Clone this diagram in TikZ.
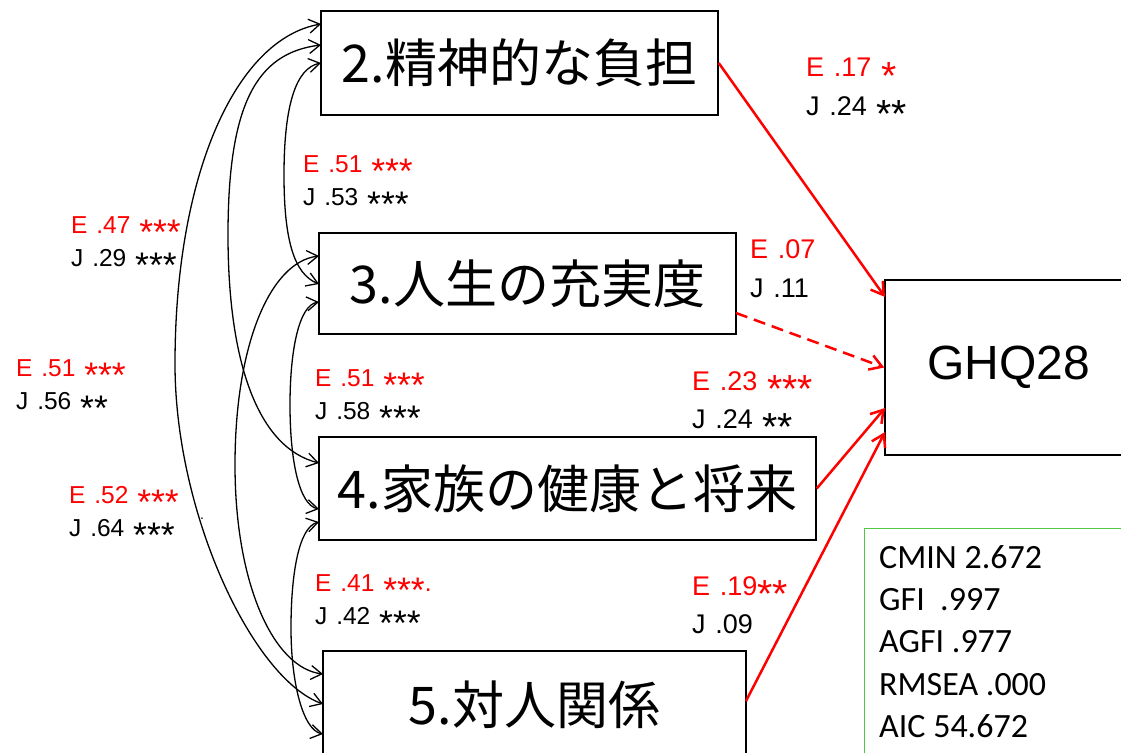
\documentclass[tikz,border=0pt]{standalone}
\usepackage{fontspec}
\usepackage{graphicx}
\setmainfont{Liberation Sans}
\newfontfamily\jpfont{Noto Sans CJK JP}
\newfontfamily\calfont{Carlito}
\newfontfamily\labfont[WordSpace=1.3]{Liberation Sans}
\usetikzlibrary{arrows.meta}
\definecolor{rd}{RGB}{255,0,0}
\definecolor{gr}{RGB}{80,200,70}
\newcommand\ask[1]{\raisebox{-0.46em}{\scalebox{1.45}{#1}}}
\begin{document}
\begin{tikzpicture}[x=1pt,y=-1pt,
  box/.style={draw=black, line width=1.5pt, rectangle, inner sep=0pt, font=\jpfont\fontsize{52}{60}\selectfont},
  corr/.style={line width=1.3pt, {Straight Barb[length=11pt,width=14pt]}-{Straight Barb[length=11pt,width=14pt]}},
  redarr/.style={draw=rd, line width=2.5pt, -{Straight Barb[length=12pt,width=15pt]}},
  lbl/.style={anchor=base west, inner sep=0pt, font=\labfont\fontsize{24.5}{28}\selectfont},
  lblr/.style={anchor=base west, inner sep=0pt, font=\labfont\fontsize{27}{30}\selectfont},
  fitline/.style={anchor=base west, inner sep=0pt, font=\calfont\fontsize{34}{40}\selectfont},
]
\clip (0,0) rectangle (1121,752);
\fill[white] (0,0) rectangle (1121,752);

% boxes
\node[box, minimum width=397pt, minimum height=104pt] (b2) at (519.5,63) {2.精神的な負担};
\node[box, minimum width=417pt, minimum height=101pt] (b3) at (527.5,283.5) {3.人生の充実度};
\node[box, minimum width=497pt, minimum height=103pt] (b4) at (567.5,488.5) {4.家族の健康と将来};
\node[box, minimum width=423pt, minimum height=108pt] (b5) at (534.5,705) {5.対人関係};
\node[draw=black, line width=1.5pt, inner sep=0pt, minimum width=248pt, minimum height=175pt, font=\fontsize{48}{56}\selectfont] (ghq) at (1009,367.5) {GHQ28};
\node[draw=gr, line width=1.3pt, anchor=north west, inner sep=0pt, minimum width=280pt, minimum height=250pt] (fitbox) at (864,528) {};
\node[fitline] (f1) at (879,568) {CMIN 2.672};
\node[fitline] (f2) at (879,610) {GFI\ \ .997};
\node[fitline] (f3) at (879,652) {AGFI .977};
\node[fitline] (f4) at (879,695) {RMSEA .000};
\node[fitline] (f5) at (879,737) {AIC 54.672};

% curve end points
\coordinate (p2a) at (321,24);
\coordinate (p2b) at (321,45);
\coordinate (p2c) at (321,63);
\coordinate (p3a) at (319,256);
\coordinate (p3b) at (319,284);
\coordinate (p3c) at (319,302);
\coordinate (p4a) at (319,463);
\coordinate (p4b) at (319,509);
\coordinate (p4c) at (319,522);
\coordinate (p5a) at (323,674);
\coordinate (p5b) at (323,704);
\coordinate (p5c) at (323,734);
% leftmost points
\coordinate (m25) at (175,364);
\coordinate (m24) at (228,235);
\coordinate (m23) at (284,175);
\coordinate (m35) at (235,465);
\coordinate (m34) at (290,405);
\coordinate (m45) at (291,628);

\draw[corr] (p2a) .. controls (236,39) and (175,174) .. (m25) .. controls (175,514) and (253,679) .. (p5b);
\draw[corr] (p2b) .. controls (256,53) and (228,105) .. (m24) .. controls (228,365) and (259,448) .. (p4a);
\draw[corr] (p2c) .. controls (296,68) and (284,105) .. (m23) .. controls (284,240) and (294,274) .. (p3b);
\draw[corr] (p3a) .. controls (270,262) and (235,345) .. (m35) .. controls (235,585) and (274,668) .. (p5a);
\draw[corr] (p3c) .. controls (299,305) and (290,350) .. (m34) .. controls (290,460) and (299,505) .. (p4b);
\draw[corr] (p4c) .. controls (299,527) and (291,573) .. (m45) .. controls (291,683) and (303,730) .. (p5c);

% red paths
\coordinate (s3r) at (736,313);
\coordinate (s5r) at (746,701);
\coordinate (g1) at (885,297);
\coordinate (g3) at (885,408);
\coordinate (g4) at (885,432);
\draw[redarr] (b2.east) -- (g1);
\draw[redarr, dash pattern=on 12pt off 7pt] (s3r) -- (ghq.west);
\draw[redarr] (b4.east) -- (g3);
\draw[redarr] (s5r) -- (g4);

% correlation labels
\node[lbl, text=rd] (la1) at (303,172) {E .51 \ask{***}};
\node[lbl] (la2) at (303,205) {J .53 \ask{***}};
\node[lbl, text=rd] (lb1) at (71,233) {E .47 \ask{***}};
\node[lbl] (lb2) at (71,266) {J .29 \ask{***}};
\node[lbl, text=rd] (lc1) at (16,376) {E .51 \ask{***}};
\node[lbl] (lc2) at (16,409) {J .56 \ask{**}};
\node[lbl, text=rd] (ld1) at (315,386) {E .51 \ask{***}};
\node[lbl] (ld2) at (315,419) {J .58 \ask{***}};
\node[lbl, text=rd] (le1) at (69,503) {E .52 \ask{***}};
\node[lbl] (le2) at (69,536) {J .64 \ask{***}};
\node[lbl, text=rd] (lf1) at (315,591) {E .41 \ask{***}.};
\node[lbl] (lf2) at (315,624) {J .42 \ask{***}};
\node[inner sep=0pt, font=\fontsize{14}{14}\selectfont] (dot) at (202,519) {.};

% path labels
\node[lblr, text=rd] (lg1) at (806,77) {E .17 \ask{*}};
\node[lblr] (lg2) at (806,115) {J .24 \ask{**}};
\node[lblr, text=rd] (lh1) at (750,258) {E .07};
\node[lblr] (lh2) at (750,297) {J .11};
\node[lblr, text=rd] (li1) at (692,390) {E .23 \ask{***}};
\node[lblr] (li2) at (692,428) {J .24 \ask{**}};
\node[lblr, text=rd] (lk1) at (692,595) {E .19\ask{**}};
\node[lblr] (lk2) at (692,633) {J .09};
\end{tikzpicture}
\end{document}
